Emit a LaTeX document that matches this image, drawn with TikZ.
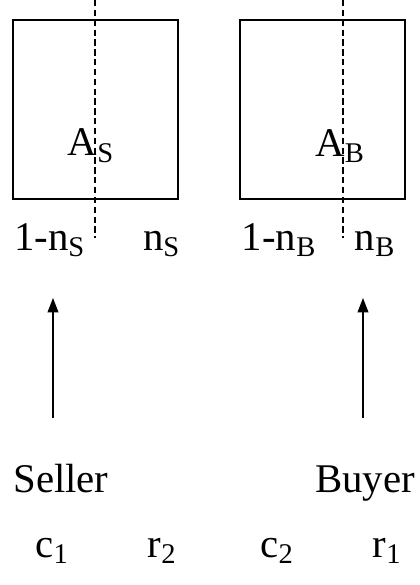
\documentclass[tikz,border=0pt]{standalone}
\usepackage{fontspec}
\setmainfont{Liberation Serif}
\usepackage{tikz}
\usetikzlibrary{arrows.meta,positioning}

\tikzset{
    market/.style={draw, line width=0.8pt, minimum width=4.125cm, minimum height=4.475cm, inner sep=0pt},
    share/.style={inner sep=0pt, anchor=base},
    split/.style={line width=1.8pt, dash pattern=on 4.5pt off 2.5pt},
    demand/.style={line width=1pt, -{Triangle[length=0.36cm,width=0.27cm]}}
}

\begin{document}
\begin{tikzpicture}[font=\fontsize{29}{35}\selectfont]
        \useasboundingbox (0,0) rectangle (10.5,-14.625);

        % Seller market
        \node[market] (boxS) at (2.3875,-2.7375) {};
        \node (aS) at (2.275,-3.65) {A\textsubscript{S}};
        \coordinate (splitStop) at (2.375,0);
        \coordinate (splitSbot) at (2.375,-5.95);
        \draw[split] (splitStop) -- (splitSbot);

        % Buyer market
        \node[market] (boxB) at (8.0625,-2.7375) {};
        \node (aB) at (8.5,-3.65) {A\textsubscript{B}};
        \coordinate (splitBtop) at (8.575,0);
        \coordinate (splitBbot) at (8.575,-5.95);
        \draw[split] (splitBtop) -- (splitBbot);

        % Shares below the boxes
        \node[share] (oneS) at (1.2375,-6.25) {1-n\textsubscript{S}};
        \node[share] (nS) at (4.0375,-6.25) {n\textsubscript{S}};
        \node[share] (oneB) at (6.975,-6.25) {1-n\textsubscript{B}};
        \node[share] (nB) at (9.375,-6.25) {n\textsubscript{B}};

        % Agents
        \node[share] (seller) at (1.525,-12.3) {Seller};
        \node[share] (buyer) at (9.125,-12.3) {Buyer};

        % Arrows up to the markets
        \coordinate (sTail) at (1.325,-10.45);
        \coordinate (sTip) at (1.325,-7.45);
        \coordinate (bTail) at (9.075,-10.45);
        \coordinate (bTip) at (9.075,-7.45);
        \draw[demand] (sTail) -- (sTip);
        \draw[demand] (bTail) -- (bTip);

        % Costs and returns
        \node[share] (c1) at (1.3,-13.925) {c\textsubscript{1}};
        \node[share] (r2) at (4.05,-13.925) {r\textsubscript{2}};
        \node[share] (c2) at (6.925,-13.925) {c\textsubscript{2}};
        \node[share] (r1) at (9.675,-13.925) {r\textsubscript{1}};
    \end{tikzpicture}
\end{document}
